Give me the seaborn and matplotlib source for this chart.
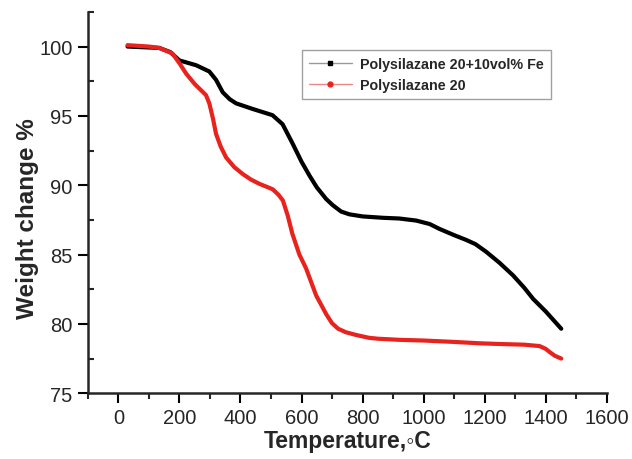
import numpy as np
import pandas as pd
import matplotlib
matplotlib.use("Agg")
import matplotlib.pyplot as plt
from matplotlib.lines import Line2D
from matplotlib.ticker import MultipleLocator
import seaborn as sns

# ── data ─────────────────────────────────────────────────────
temp_fe = [30, 134, 170, 200, 255, 298, 320, 342, 365, 386, 440, 505, 538,
           571, 600, 626, 650, 681, 703, 730, 757, 800, 867, 920, 976, 1020,
           1052, 1100, 1140, 1170, 1205, 1249, 1293, 1330, 1359, 1400, 1451]
wt_fe = [100.0, 99.9, 99.6, 99.0, 98.65, 98.2, 97.6, 96.7, 96.2, 95.9,
         95.5, 95.05, 94.4, 93.0, 91.7, 90.7, 89.85, 89.0, 88.55, 88.1,
         87.9, 87.75, 87.65, 87.6, 87.45, 87.2, 86.85, 86.4, 86.05, 85.75,
         85.2, 84.4, 83.5, 82.6, 81.8, 80.9, 79.65]

temp_ps = [30, 100, 134, 177, 200, 222, 250, 287, 298, 310, 320, 335, 353,
           380, 408, 435, 462, 490, 506, 525, 539, 555, 570, 593, 615, 648,
           681, 700, 720, 745, 779, 820, 850, 921, 1000, 1100, 1184, 1249,
           1330, 1380, 1400, 1413, 1430, 1451]
wt_ps = [100.1, 100.0, 99.9, 99.5, 98.8, 98.05, 97.3, 96.5, 95.9, 94.8,
         93.7, 92.8, 92.0, 91.3, 90.8, 90.4, 90.1, 89.85, 89.7, 89.3, 88.9,
         87.8, 86.5, 85.0, 84.0, 82.05, 80.7, 80.05, 79.65, 79.4, 79.2,
         79.0, 78.93, 78.85, 78.8, 78.7, 78.6, 78.55, 78.5, 78.4, 78.2,
         77.97, 77.7, 77.5]

labels = ["Polysilazane 20+10vol% Fe", "Polysilazane 20"]
colors = ["#000000", "#e8231e"]

df = pd.concat([
    pd.DataFrame({"T": temp_fe, "W": wt_fe, "sample": labels[0]}),
    pd.DataFrame({"T": temp_ps, "W": wt_ps, "sample": labels[1]}),
])

sns.set_style("ticks")
plt.rcParams["font.family"] = ["Liberation Sans", "DejaVu Sans"]

fig = plt.figure(figsize=(6.32, 4.60), dpi=100)
ax = fig.add_axes([0.139, 0.143, 0.821, 0.829])

sns.lineplot(data=df, x="T", y="W", hue="sample", hue_order=labels,
             palette=colors, linewidth=3.0, legend=False, ax=ax,
             estimator=None, sort=False)
for ln in ax.lines:
    ln.set_solid_joinstyle("round")
    ln.set_solid_capstyle("round")

ax.set_xlim(-100, 1600)
ax.set_ylim(75, 102.5)
ax.xaxis.set_minor_locator(MultipleLocator(100))
ax.yaxis.set_major_locator(MultipleLocator(5))
ax.yaxis.set_minor_locator(MultipleLocator(2.5))
ax.set_xticks(np.arange(0, 1601, 200))
ax.tick_params(axis="both", which="major", labelsize=14.5, length=7,
               width=1.5, direction="out", color="black", pad=4)
ax.tick_params(axis="x", which="minor", length=4, width=1.5, direction="out")
ax.tick_params(axis="y", which="minor", length=4, width=1.5, direction="in")

for s in ["top", "right"]:
    ax.spines[s].set_visible(False)
for s in ["left", "bottom"]:
    ax.spines[s].set_linewidth(1.8)

ax.set_xlabel("Temperature,\u25e6C", fontsize=16.5, fontweight="bold",
              labelpad=1)
ax.set_ylabel("Weight change %", fontsize=17.5, fontweight="bold")
ax.yaxis.set_label_coords(-0.094, 0.46)

handles = [
    Line2D([], [], color="#999999", lw=1, marker="s", markersize=3.5,
           markerfacecolor="black", markeredgecolor="black"),
    Line2D([], [], color="#ee8888", lw=1, marker="o", markersize=3.5,
           markerfacecolor="#e8231e", markeredgecolor="#e8231e"),
]
leg = ax.legend(handles, labels, loc="upper left",
                bbox_to_anchor=(0.412, 0.900), borderaxespad=0,
                frameon=True, fancybox=False,
                edgecolor="#888888", handlelength=3.0, borderpad=0.5,
                labelspacing=0.45, handletextpad=0.6,
                prop={"weight": "bold", "size": 10.3})
leg.get_frame().set_linewidth(1.0)

fig.savefig("out.png", dpi=100)
